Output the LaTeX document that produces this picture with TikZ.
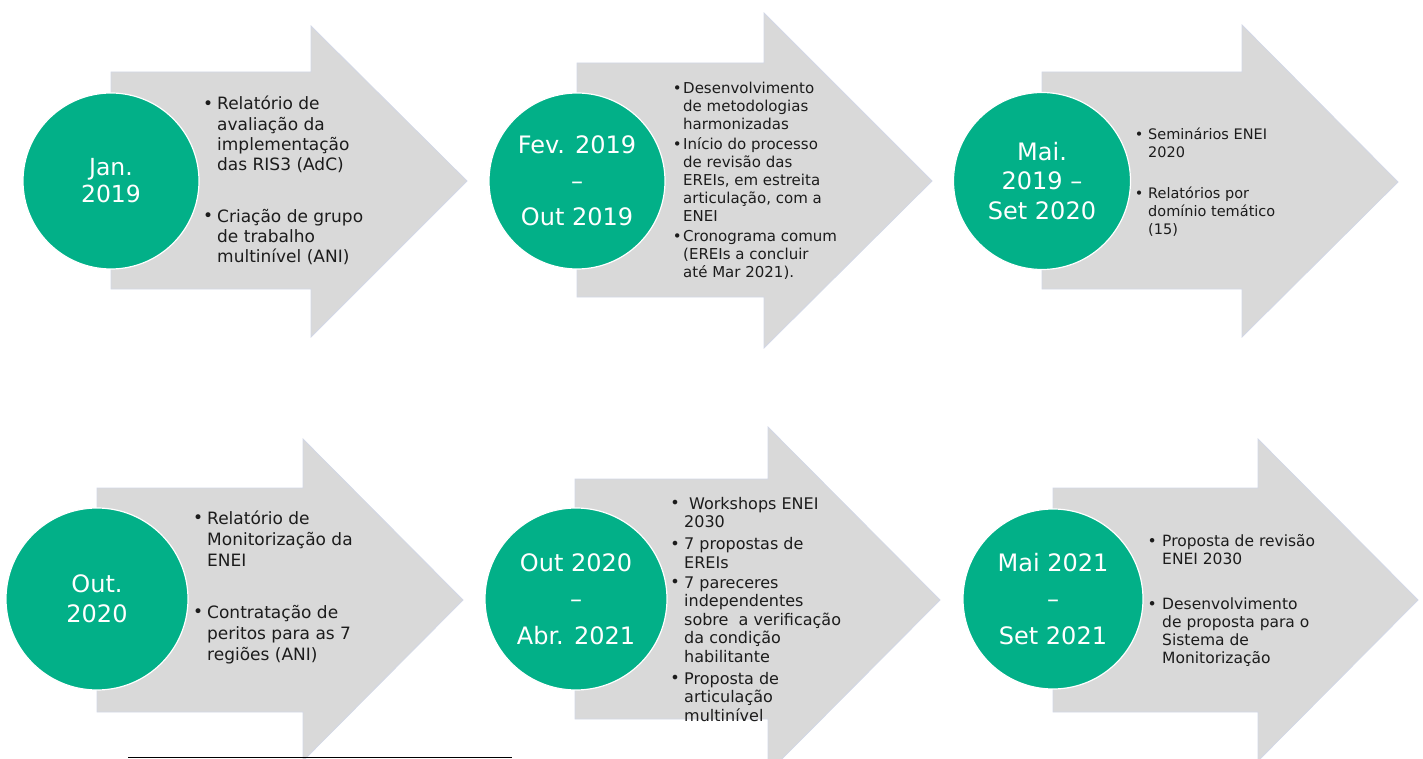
\documentclass[tikz,border=0pt]{standalone}
\usepackage{fontspec}
\setmainfont{DejaVu Sans}
\usepackage{graphicx}
\usepackage{array}
\definecolor{circgreen}{HTML}{02B088}
\definecolor{arrgray}{HTML}{D9D9D9}
\definecolor{arredge}{HTML}{D2D7E6}
\definecolor{txtdark}{HTML}{1C1C1C}
\newcommand{\tlbul}{\makebox[0pt][c]{\raisebox{0.02em}{•}}}
\tikzset{
  arrowshape/.style={fill=arrgray, draw=arredge, line width=0.8pt, line join=miter},
  datecirc/.style={circle, fill=circgreen, draw=white, line width=1.2pt, inner sep=0pt, text=white, align=center},
  itemtxt/.style={inner sep=0pt, anchor=base west, text=txtdark, align=left},
}
\begin{document}
\begin{tikzpicture}[x=1pt,y=-1pt]
\path[use as bounding box] (0,0) rectangle (1423,759);
\clip (0,0) rectangle (1423,759);

% ---------- Arrow 1 ----------
\path[arrowshape] (111,72) -- (311,72) -- (311,26) -- (467,181) -- (311,337) -- (311,289) -- (111,289) -- cycle;
\node[datecirc, minimum size=176pt, font=\fontsize{23.5}{27}\selectfont] (c1) at (111,181) {Jan.\\2019};
\node[itemtxt] (t1) at (208,110) {\fontsize{17}{20.3}\selectfont
\begin{tabular}[t]{@{}p{9pt}@{}l@{}}
\tlbul & Relatório de\\
 & avaliação da\\
 & implementação\\
 & das RIS3 (AdC)\\[31pt]
\tlbul & Criação de grupo\\
 & de trabalho\\
 & multinível (ANI)
\end{tabular}};

% ---------- Arrow 2 ----------
\path[arrowshape] (577,63) -- (764,63) -- (764,13) -- (932,181) -- (764,348) -- (764,297) -- (577,297) -- cycle;
\node[datecirc, minimum size=176pt, font=\fontsize{24}{36}\selectfont] (c2) at (577,181) {Fev. 2019\\–\\Out 2019};
\node[itemtxt] (t2) at (677,93.5) {\fontsize{15}{17.8}\selectfont
\begin{tabular}[t]{@{}p{6pt}@{}l@{}}
\tlbul & Desenvolvimento\\
 & de metodologias\\
 & harmonizadas\\[3pt]
\tlbul & Início do processo\\
 & de revisão das\\
 & EREIs, em estreita\\
 & articulação, com a\\
 & ENEI\\[3pt]
\tlbul & Cronograma comum\\
 & (EREIs a concluir\\
 & até Mar 2021).
\end{tabular}};

% ---------- Arrow 3 ----------
\path[arrowshape] (1042,72) -- (1242,72) -- (1242,25) -- (1398,182) -- (1242,337) -- (1242,289) -- (1042,289) -- cycle;
\node[datecirc, minimum size=177pt, font=\fontsize{24}{29.5}\selectfont] (c3) at (1042,181) {Mai.\\2019 –\\Set 2020};
\node[itemtxt] (t3) at (1139,140) {\fontsize{14.5}{18}\selectfont
\begin{tabular}[t]{@{}p{9pt}@{}l@{}}
\tlbul & Seminários ENEI\\
 & 2020\\[23pt]
\tlbul & Relatórios por\\
 & domínio temático\\
 & (15)
\end{tabular}};

% ---------- Arrow 4 ----------
\path[arrowshape] (97,488) -- (303,488) -- (303,439) -- (463,600) -- (303,761) -- (303,712) -- (97,712) -- cycle;
\node[datecirc, minimum size=182pt, font=\fontsize{24}{30}\selectfont] (c4) at (97,599) {Out.\\2020};
\node[itemtxt] (t4) at (198,524) {\fontsize{17}{21}\selectfont
\begin{tabular}[t]{@{}p{9pt}@{}l@{}}
\tlbul & Relatório de\\
 & Monitorização da\\
 & ENEI\\[31pt]
\tlbul & Contratação de\\
 & peritos para as 7\\
 & regiões (ANI)
\end{tabular}};

% ---------- Arrow 5 ----------
\path[arrowshape] (575,479) -- (768,479) -- (768,427) -- (940,600) -- (768,773) -- (768,719) -- (575,719) -- cycle;
\node[datecirc, minimum size=182pt, font=\fontsize{24}{36.5}\selectfont] (c5) at (576,599) {Out 2020\\–\\Abr. 2021};
\node[itemtxt] (t5) at (675,509) {\fontsize{16}{18.5}\selectfont
\begin{tabular}[t]{@{}p{9pt}@{}l@{}}
\tlbul & \hspace{5pt}Workshops ENEI\\
 & 2030\\[3.5pt]
\tlbul & 7 propostas de\\
 & EREIs\\[1.5pt]
\tlbul & 7 pareceres\\
 & independentes\\
 & sobre\ \ a verificação\\
 & da condição\\
 & habilitante\\[3.5pt]
\tlbul & Proposta de\\
 & articulação\\
 & multinível
\end{tabular}};

% ---------- Arrow 6 ----------
\path[arrowshape] (1053,488) -- (1258,488) -- (1258,439) -- (1418,600) -- (1258,761) -- (1258,712) -- (1053,712) -- cycle;
\node[datecirc, minimum size=180pt, font=\fontsize{24}{36.5}\selectfont] (c6) at (1053,599) {Mai 2021\\–\\Set 2021};
\node[itemtxt] (t6) at (1152,546.5) {\fontsize{15.5}{18}\selectfont
\begin{tabular}[t]{@{}p{10pt}@{}l@{}}
\tlbul & Proposta de revisão\\
 & ENEI 2030\\[27pt]
\tlbul & Desenvolvimento\\
 & de proposta para o\\
 & Sistema de\\
 & Monitorização
\end{tabular}};

% ---------- footnote rule ----------
\coordinate (r1) at (128,757.5);
\coordinate (r2) at (512,757.5);
\draw[black, line width=0.9pt] (r1) -- (r2);
\end{tikzpicture}
\end{document}
